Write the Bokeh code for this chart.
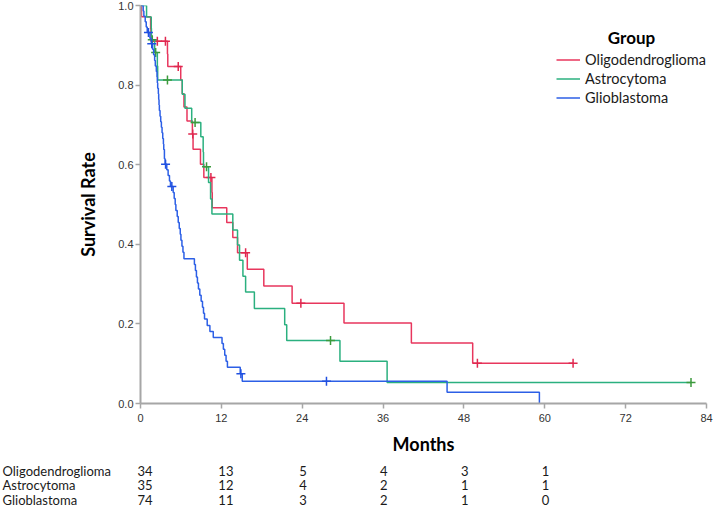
import numpy as np
from bokeh.plotting import figure
from bokeh.models import Range1d, FixedTicker, PrintfTickFormatter, Legend, LegendItem, Label
from bokeh.layouts import column
from bokeh.embed import file_html
from bokeh.resources import INLINE
from bokeh.core.properties import value

groups = ["Oligodendroglioma", "Astrocytoma", "Glioblastoma"]

# Oligodendroglioma
oligo_event_months = [0.15, 1.5, 1.55, 4.0, 4.05, 5.97, 6.2, 6.45, 6.9, 7.7, 7.8, 8.9, 9.4,
                      10.6, 10.65, 12.8, 13.7, 14.4, 15.85, 18.3, 22.5, 30.2, 40.2, 49.3]
oligo_survival = [0.972, 0.941, 0.910, 0.878, 0.847, 0.813, 0.778, 0.745, 0.710, 0.677, 0.639,
                  0.601, 0.568, 0.530, 0.492, 0.455, 0.417, 0.379, 0.337, 0.295, 0.252,
                  0.202, 0.152, 0.101]
oligo_censor_months = [2.5, 3.7, 5.6, 7.75, 10.45, 15.6, 23.8, 50.0, 64.2]
oligo_last_month = 64.2

# Astrocytoma
astro_event_months = [0.9, 1.6, 1.62, 2.1, 2.5, 2.55, 6.2, 6.6, 7.6, 8.95, 9.3, 9.35, 10.1,
                      10.4, 10.6, 13.7, 14.4, 14.7, 15.2, 15.6, 16.9, 21.4, 21.7, 29.6, 36.6]
astro_survival = [0.971, 0.943, 0.914, 0.882, 0.848, 0.813, 0.777, 0.742, 0.706, 0.670, 0.632,
                  0.595, 0.555, 0.514, 0.476, 0.436, 0.398, 0.360, 0.320, 0.280, 0.239,
                  0.198, 0.158, 0.106, 0.053]
astro_censor_months = [1.75, 2.25, 4.0, 8.1, 9.8, 28.2, 81.7]
astro_last_month = 81.7

# Glioblastoma
glio_event_months = [0.4, 0.5, 0.7, 0.85, 1.0, 1.4, 1.6, 1.8, 1.95, 2.1, 2.2, 2.35, 2.45, 2.5,
                     2.55, 2.65, 2.7, 2.75, 2.8, 2.9, 3.0, 3.1, 3.2, 3.3, 3.4, 3.45, 3.55, 3.65,
                     3.9, 4.1, 4.3, 4.45, 4.85, 5.0, 5.15, 5.25, 5.45, 5.6, 5.75, 5.9, 6.0,
                     6.15, 6.3, 6.45, 8.0, 8.15, 8.3, 8.45, 8.6, 8.8, 9.0, 9.2, 9.35, 9.5,
                     9.9, 10.3, 10.8, 12.1, 12.3, 12.5, 12.7, 12.9, 14.8, 15.1, 45.5, 59.2]
glio_survival = [0.986, 0.973, 0.959, 0.946, 0.932, 0.918, 0.904, 0.890, 0.876, 0.862, 0.848,
                 0.834, 0.820, 0.806, 0.792, 0.778, 0.764, 0.750, 0.736, 0.722, 0.708, 0.694,
                 0.680, 0.666, 0.652, 0.638, 0.615, 0.601, 0.587, 0.573, 0.559, 0.545, 0.530,
                 0.515, 0.500, 0.485, 0.470, 0.455, 0.440, 0.425, 0.410, 0.395, 0.380, 0.364,
                 0.349, 0.334, 0.318, 0.303, 0.288, 0.272, 0.257, 0.242, 0.227, 0.212, 0.196,
                 0.181, 0.166, 0.151, 0.136, 0.121, 0.106, 0.091, 0.075, 0.056, 0.028, 0.0]
glio_censor_months = [1.18, 1.67, 3.72, 4.65, 14.9, 27.6]
glio_last_month = 59.2

risk_months = [0, 12, 24, 36, 48, 60]
oligo_at_risk = [34, 13, 5, 4, 3, 1]
astro_at_risk = [35, 12, 4, 2, 1, 1]
glio_at_risk = [74, 11, 3, 2, 1, 0]

x_ticks = [0, 12, 24, 36, 48, 60, 72, 84]
y_ticks = [0.0, 0.2, 0.4, 0.6, 0.8, 1.0]

line_colors = ["#e8365d", "#2bb07f", "#2c5fe6"]
cross_colors = ["#e0284f", "#3c9a3c", "#2050e0"]

# layout constants (pixels)
W = 714
LEFT = 140
RIGHT_BORDER = 8
TOP = 5
H1 = 458
BOTTOM1 = 55
H2 = 50

p = figure(width=W, height=H1, x_range=Range1d(0, 84), y_range=Range1d(0, 1),
           output_backend="svg", toolbar_location=None,
           min_border_left=LEFT, min_border_right=RIGHT_BORDER,
           min_border_top=TOP, min_border_bottom=BOTTOM1)
p.frame_align = False
p.xgrid.visible = False
p.ygrid.visible = False
p.outline_line_color = None
p.background_fill_color = "white"

series = [
    (oligo_event_months, oligo_survival, oligo_censor_months, oligo_last_month),
    (astro_event_months, astro_survival, astro_censor_months, astro_last_month),
    (glio_event_months, glio_survival, glio_censor_months, glio_last_month),
]

renderers = []
for (ev, sv, cen, last), lc, cc in zip(series, line_colors, cross_colors):
    xs = [0.0] + list(ev) + [last]
    ys = [1.0] + list(sv) + [sv[-1]]
    r = p.step(xs, ys, mode="after", line_color=lc, line_width=1.5)
    renderers.append(r)
    ev_arr = np.array(ev)
    cy = []
    for c in cen:
        i = int(np.searchsorted(ev_arr, c, side="right"))
        cy.append(1.0 if i == 0 else sv[i - 1])
    p.scatter(cen, cy, marker="cross", size=9, line_color=cc, line_width=1.5)

axis_color = "#a6a6a6"
for ax in (p.xaxis[0], p.yaxis[0]):
    ax.axis_line_color = axis_color
    ax.axis_line_width = 2
    ax.major_tick_line_color = axis_color
    ax.major_tick_line_width = 1.5
    ax.major_tick_out = 5
    ax.major_tick_in = 0
    ax.minor_tick_line_color = None
    ax.major_label_text_font = "Liberation Sans"
    ax.major_label_text_font_size = "11px"
    ax.major_label_text_color = "#333333"
    ax.axis_label_text_font = "Lato"
    ax.axis_label_text_font_style = "bold"
    ax.axis_label_text_font_size = "18px"
    ax.axis_label_text_color = "#000000"

p.xaxis.ticker = FixedTicker(ticks=x_ticks)
p.yaxis.ticker = FixedTicker(ticks=y_ticks)
p.yaxis.formatter = PrintfTickFormatter(format="%.1f")
p.xaxis.axis_label = "Months"
p.yaxis.axis_label = "Survival Rate"
p.xaxis.major_label_standoff = 5
p.xaxis.axis_label_standoff = 8
p.yaxis.major_label_standoff = 2
p.yaxis.axis_label_standoff = 16

frame_h = H1 - TOP - BOTTOM1
item_h = 19
legend = Legend(items=[LegendItem(label=g, renderers=[r]) for g, r in zip(groups, renderers)],
                location=(556 - LEFT, frame_h - (59 - item_h / 2 - TOP) - 3 * item_h),
                padding=0, margin=0, spacing=0, glyph_width=24, glyph_height=item_h,
                label_height=item_h, label_standoff=5,
                label_text_font="Lato", label_text_font_size="14.5px",
                label_text_color="#1a1a1a",
                border_line_color=None, background_fill_alpha=0)
p.add_layout(legend)

title = Label(x=631 - LEFT, y=frame_h - (37 - TOP), x_units="screen", y_units="screen",
              text="Group", text_font="Lato", text_font_style="bold", text_font_size="17px",
              text_align="center", text_baseline="middle", text_color="#000000")
p.add_layout(title)

# number-at-risk table figure sharing the month scale
px_per_month = (W - RIGHT_BORDER - LEFT) / 84.0
x_start = -LEFT / px_per_month
row0 = 12      # baseline of first row, px from top of the table figure
row_gap = 14.5
q = figure(width=W, height=H2, x_range=Range1d(x_start, 84),
           y_range=Range1d((H2 - row0) / row_gap, -row0 / row_gap),
           output_backend="svg", toolbar_location=None,
           x_axis_location=None, y_axis_location=None,
           min_border_left=0, min_border_right=RIGHT_BORDER,
           min_border_top=0, min_border_bottom=0)
q.frame_align = False
q.xgrid.visible = False
q.ygrid.visible = False
q.outline_line_color = None

q.text(x=[x_start] * 3, y=[0, 1, 2], text=groups, text_font=value("Lato"),
       text_font_size="13px", text_align="left", text_baseline="alphabetic",
       text_color="#1a1a1a", x_offset=2)
for i, counts in enumerate([oligo_at_risk, astro_at_risk, glio_at_risk]):
    q.text(x=risk_months, y=[i] * len(risk_months), text=[str(c) for c in counts],
           text_font=value("Lato"), text_font_size="13px", text_align="left",
           text_baseline="alphabetic", text_color="#1a1a1a", x_offset=-3)

layout = column(p, q, spacing=0)
open("out.html", "w").write(file_html(layout, INLINE))
